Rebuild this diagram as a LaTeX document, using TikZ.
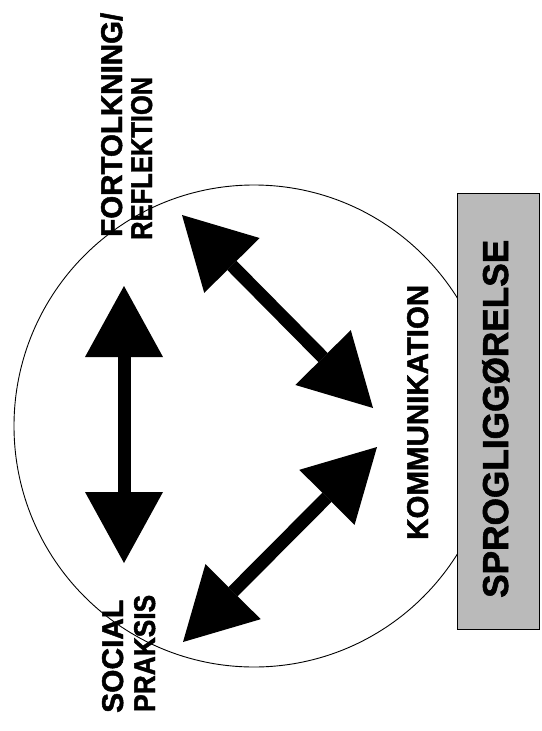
\documentclass[tikz,border=0pt]{standalone}
\usepackage{fontspec}
\setmainfont{Liberation Sans}
\newfontfamily\heavyfont{Liberation Sans Bold}[FakeBold=1.6]
\usetikzlibrary{arrows.meta}
\begin{document}
\begin{tikzpicture}[x=1pt,y=-1pt,
  lbl/.style={rotate=90, anchor=base west, inner sep=0pt, font=\fontsize{30}{31}\heavyfont},
  biglbl/.style={rotate=90, anchor=base west, inner sep=0pt, font=\fontsize{36}{38}\heavyfont},
  dbl/.style={line width=13pt, {Triangle[length=71pt,width=78pt,line width=0pt]}-{Triangle[length=71pt,width=78pt,line width=0pt]}},
  ring/.style={line width=0.9pt},
  boxstyle/.style={draw=black, line width=1.3pt, fill=black!27, minimum width=82pt, minimum height=436pt, inner sep=0pt, anchor=north west}
]
\useasboundingbox (0,0) rectangle (541,731);
% ellipse
\draw[ring] (254,426) ellipse [x radius=240, y radius=241];
% box
\node[boxstyle] (box) at (457,193) {};
% labels
\node[lbl] (fort) at (122,237) {\resizebox{224pt}{\height}{FORTOLKNING/}};
\node[lbl] (refl) at (152,240) {\resizebox{163pt}{\height}{REFLEKTION}};
\node[lbl] (soc) at (123,713) {\resizebox{113pt}{\height}{SOCIAL}};
\node[lbl] (prak) at (155,712) {\resizebox{117pt}{\height}{PRAKSIS}};
\node[lbl] (komm) at (428,540) {\resizebox{255pt}{\height}{KOMMUNIKATION}};
\node[biglbl] (sprog) at (508,598) {\resizebox{358pt}{\height}{SPROGLIGGØRELSE}};
% arrow end points
\coordinate (vt) at (124,286);
\coordinate (vb) at (124,563);
\coordinate (ut) at (182,215);
\coordinate (ub) at (373,408);
\coordinate (lt) at (377,447);
\coordinate (lb) at (183,642);
\draw[dbl] (vt) -- (vb);
\draw[dbl] (ut) -- (ub);
\draw[dbl] (lt) -- (lb);
\end{tikzpicture}
\end{document}
